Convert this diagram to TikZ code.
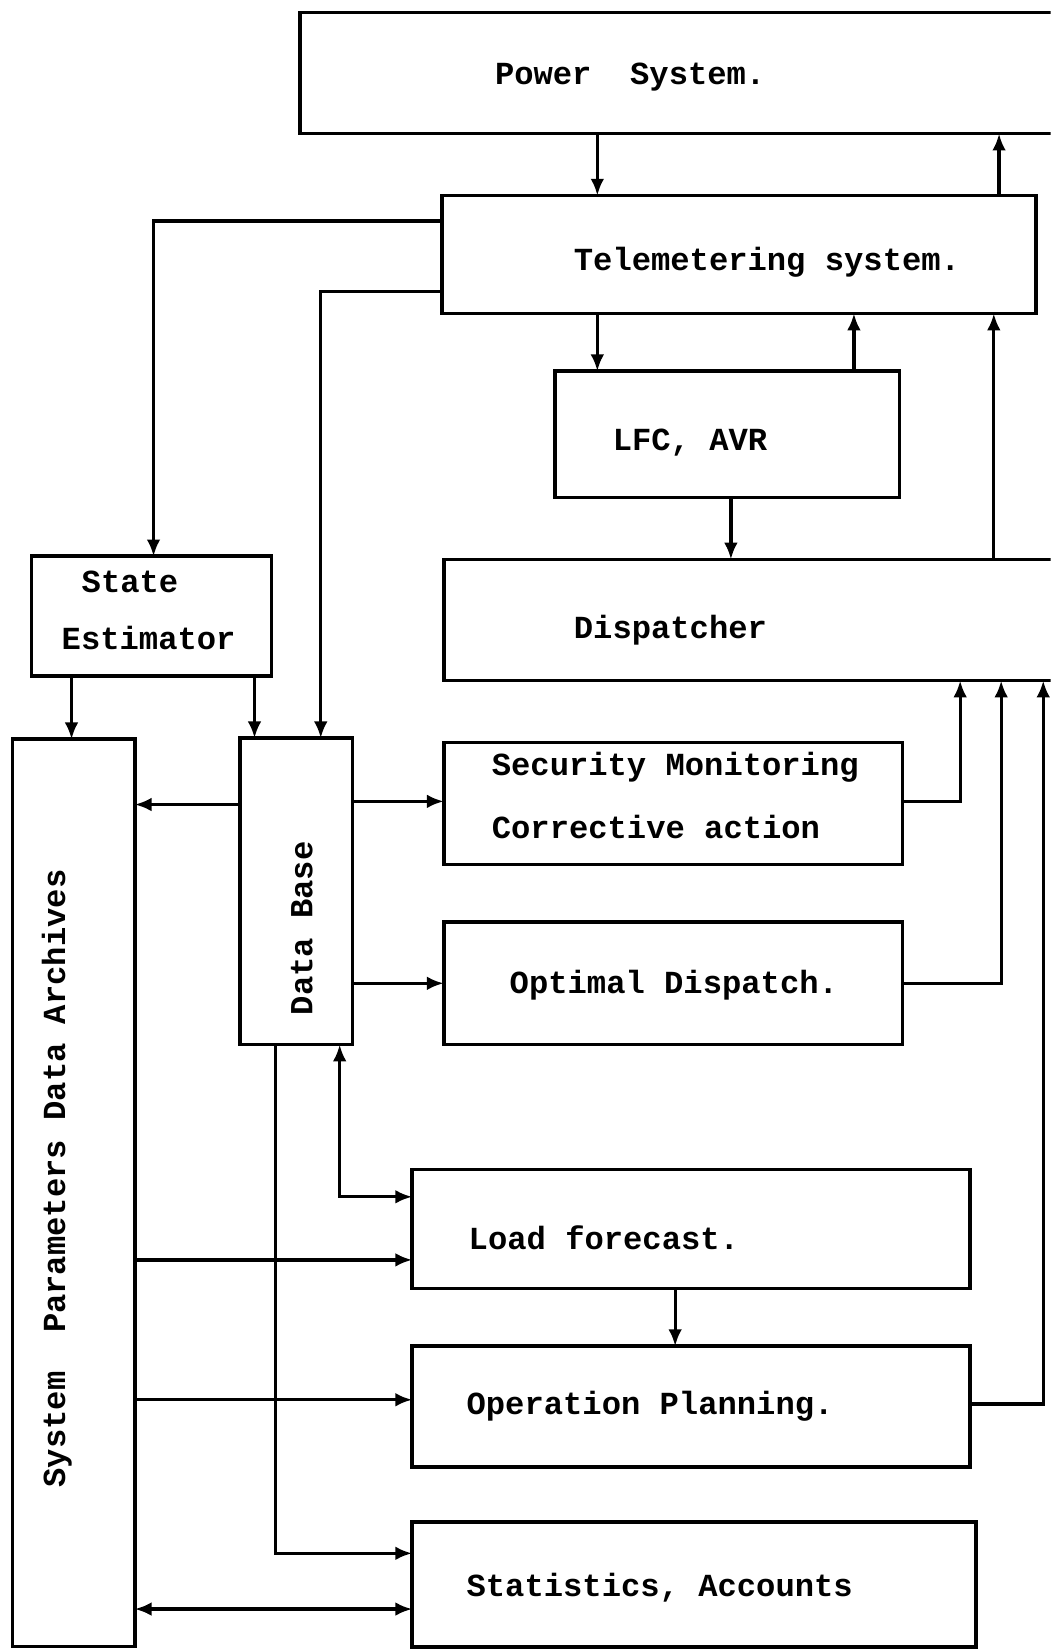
\documentclass[tikz,border=0pt]{standalone}
\usepackage{fontspec}
\setmonofont{Liberation Mono}
\usetikzlibrary{arrows.meta}
\begin{document}
\begin{tikzpicture}[x=0.01cm,y=-0.01cm,
  box/.style={draw,line width=1pt,inner sep=0pt,outer sep=0pt,anchor=north west},
  txt/.style={inner sep=0pt,anchor=base west,font=\fontsize{8.7}{10}\selectfont\ttfamily\bfseries},
  rtxt/.style={txt,rotate=90},
  arr/.style={line width=0.9pt,-{Latex[length=1.6mm,width=1.3mm]}},
  darr/.style={line width=0.9pt,{Latex[length=1.6mm,width=1.3mm]}-{Latex[length=1.6mm,width=1.3mm]}}]
\fill[white] (0,0) rectangle (999,1568);
\clip (0,0) rectangle (999,1568);
% boxes
\node[box,minimum width=7.40cm,minimum height=1.15cm] (ps) at (285,12) {};
\node[box,minimum width=5.65cm,minimum height=1.12cm] (tele) at (420,186) {};
\node[box,minimum width=3.27cm,minimum height=1.20cm] (lfc) at (528,353) {};
\node[box,minimum width=6.00cm,minimum height=1.15cm] (disp) at (422,532) {};
\node[box,minimum width=2.28cm,minimum height=1.14cm] (se) at (30,529) {};
\node[box,minimum width=1.16cm,minimum height=8.62cm] (spda) at (12,703) {};
\node[box,minimum width=1.07cm,minimum height=2.91cm] (db) at (228,702) {};
\node[box,minimum width=4.36cm,minimum height=1.16cm] (sec) at (422,706) {};
\node[box,minimum width=4.36cm,minimum height=1.16cm] (opt) at (422,877) {};
\node[box,minimum width=5.30cm,minimum height=1.13cm] (load) at (392,1112) {};
\node[box,minimum width=5.30cm,minimum height=1.15cm] (oper) at (392,1280) {};
\node[box,minimum width=5.36cm,minimum height=1.19cm] (stat) at (392,1447) {};
% texts
\node[txt] (psT) at (470,80) {Power\ \ System.};
\node[txt] (teleT) at (545,257) {Telemetering system.};
\node[txt] (lfcT) at (582,428) {LFC, AVR};
\node[txt] (dispT) at (545,607) {Dispatcher};
\node[txt] (seT1) at (77,563) {State};
\node[txt] (seT2) at (58,618) {Estimator};
\node[txt] (secT1) at (467,737) {Security Monitoring};
\node[txt] (secT2) at (467,797) {Corrective action};
\node[txt] (optT) at (484,945) {Optimal Dispatch.};
\node[txt] (loadT) at (445,1188) {Load forecast.};
\node[txt] (operT) at (443,1345) {Operation Planning.};
\node[txt] (statT) at (443,1518) {Statistics, Accounts};
\node[rtxt] (spdaT) at (62,1415) {System\ \ Parameters Data Archives};
\node[rtxt] (dbT) at (297,966) {Data Base};
% connectors
\draw[arr] (568,0 |- ps.south) -- (568,0 |- tele.north);
\draw[arr] (950,0 |- tele.north) -- (950,0 |- ps.south);
\draw[arr] (568,0 |- tele.south) -- (568,0 |- lfc.north);
\draw[arr] (812,0 |- lfc.north) -- (812,0 |- tele.south);
\draw[arr] (695,0 |- lfc.south) -- (695,0 |- disp.north);
\draw[arr] (945,0 |- disp.north) -- (945,0 |- tele.south);
\draw[arr] (tele.west |- 0,210) -| (146,0 |- se.north);
\draw[arr] (tele.west |- 0,277) -| (305,0 |- db.north);
\draw[arr] (68,0 |- se.south) -- (68,0 |- spda.north);
\draw[arr] (242,0 |- se.south) -- (242,0 |- db.north);
\draw[arr] (db.west |- 0,765) -- (spda.east |- 0,765);
\draw[arr] (db.east |- 0,762) -- (sec.west |- 0,762);
\draw[arr] (db.east |- 0,935) -- (opt.west |- 0,935);
\draw[arr] (sec.east |- 0,762) -| (913,0 |- disp.south);
\draw[arr] (opt.east |- 0,935) -| (952,0 |- disp.south);
\draw[arr] (oper.east |- 0,1335) -| (992,0 |- disp.south);
\draw[darr] (323,0 |- db.south) |- (load.west |- 0,1138);
\draw[arr] (262,0 |- db.south) |- (stat.west |- 0,1477);
\draw[arr] (spda.east |- 0,1198) -- (load.west |- 0,1198);
\draw[arr] (spda.east |- 0,1331) -- (oper.west |- 0,1331);
\draw[darr] (spda.east |- 0,1530) -- (stat.west |- 0,1530);
\draw[arr] (642,0 |- load.south) -- (642,0 |- oper.north);
\end{tikzpicture}
\end{document}
